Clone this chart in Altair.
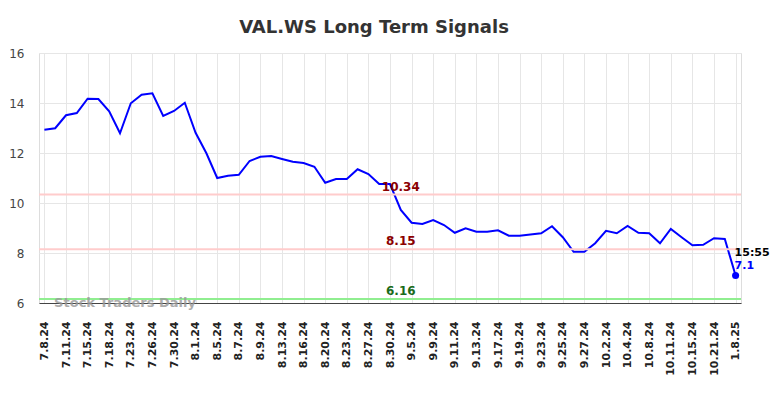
import altair as alt
import pandas as pd

values = [12.93, 12.99, 13.51, 13.60, 14.17, 14.16, 13.67, 12.79, 13.99, 14.33,
          14.39, 13.48, 13.68, 14.01, 12.81, 11.99, 11.00, 11.09, 11.13, 11.68,
          11.85, 11.88, 11.76, 11.65, 11.60, 11.45, 10.81, 10.96, 10.96, 11.35,
          11.16, 10.76, 10.76, 9.72, 9.21, 9.16, 9.32, 9.12, 8.81, 8.99,
          8.85, 8.85, 8.91, 8.69, 8.69, 8.74, 8.79, 9.07, 8.63, 8.05,
          8.05, 8.39, 8.89, 8.79, 9.08, 8.81, 8.79, 8.39, 8.96, 8.63,
          8.31, 8.33, 8.59, 8.56, 7.10]

tick_labels = ["7.8.24", "7.11.24", "7.15.24", "7.18.24", "7.23.24", "7.26.24",
               "7.30.24", "8.1.24", "8.5.24", "8.7.24", "8.9.24", "8.13.24",
               "8.16.24", "8.20.24", "8.23.24", "8.27.24", "8.30.24", "9.5.24",
               "9.9.24", "9.11.24", "9.13.24", "9.17.24", "9.19.24", "9.23.24",
               "9.25.24", "9.27.24", "10.2.24", "10.4.24", "10.8.24", "10.11.24",
               "10.15.24", "10.21.24", "1.8.25"]

levels = [10.34, 8.15, 6.16]
level_labels = ["10.34", "8.15", "6.16"]
level_line_colors = ["#ffcccc", "#ffcccc", "#90ee90"]
level_text_colors = ["#8b0000", "#8b0000", "#1a6b1a"]

last_time = "15:55"
watermark = "Stock Traders Daily"
title = "VAL.WS Long Term Signals"

df = pd.DataFrame({"i": list(range(len(values))), "v": values})
lv = pd.DataFrame({"y": levels, "label": level_labels,
                   "lc": level_line_colors, "tc": level_text_colors,
                   "x": [33] * len(levels)})
last = df.tail(1).copy()
last["t"] = last_time
last["vl"] = [f"{values[-1]:g}"]

n = len(values)
label_arr = "[" + ",".join(f"'{s}'" for s in tick_labels) + "]"

xscale = alt.Scale(domain=[-0.5, n - 0.5], nice=False, zero=False)
yscale = alt.Scale(domain=[6, 16], nice=False, zero=False)

x_axis = alt.Axis(values=list(range(0, n, 2)), labelExpr=f"{label_arr}[round(datum.value/2)]",
                  labelAngle=-90, labelAlign="right", labelBaseline="middle",
                  labelPadding=18, ticks=False, domain=True, domainColor="#444444",
                  domainWidth=1.2, grid=True, gridColor="#e6e6e6", title=None,
                  labelFont="DejaVu Sans", labelFontSize=11, labelFontWeight="bold",
                  labelColor="#222222", labelOverlap=False, labelBound=False,
                  labelFlush=False)
y_axis = alt.Axis(values=[6, 8, 10, 12, 14, 16], ticks=False, domain=False,
                  grid=True, gridColor="#e6e6e6", title=None, labelPadding=15,
                  labelFont="DejaVu Sans", labelFontSize=12, labelColor="#444444")


def X(field):
    return alt.X(field, scale=xscale, axis=x_axis)


def Y(field):
    return alt.Y(field, scale=yscale, axis=y_axis)


rules = alt.Chart(lv).mark_rule(strokeWidth=2).encode(
    y=Y("y:Q"), color=alt.Color("lc:N", scale=None))

rule_text = alt.Chart(lv).mark_text(font="DejaVu Sans", fontSize=12, fontWeight="bold",
                                    baseline="middle", dy=-8).encode(
    x=X("x:Q"), y=Y("y:Q"), text="label:N", color=alt.Color("tc:N", scale=None))

line = alt.Chart(df).mark_line(color="#0000ff", strokeWidth=2).encode(
    x=X("i:Q"), y=Y("v:Q"))

dot = alt.Chart(last).mark_circle(color="#0000ff", size=50, opacity=1).encode(
    x=X("i:Q"), y=Y("v:Q"))

time_text = alt.Chart(last).mark_text(font="DejaVu Sans", fontSize=11, fontWeight="bold",
                                      align="left", baseline="middle", dy=-23, dx=-1,
                                      color="#000000").encode(
    x=X("i:Q"), y=Y("v:Q"), text="t:N")

val_text = alt.Chart(last).mark_text(font="DejaVu Sans", fontSize=11, fontWeight="bold",
                                     align="left", baseline="middle", dy=-10, dx=-1,
                                     color="#0000ff").encode(
    x=X("i:Q"), y=Y("v:Q"), text="vl:N")

wm = alt.Chart(pd.DataFrame({"x": [0.9], "y": [6.0], "t": [watermark]})).mark_text(
    font="DejaVu Sans", fontSize=13, fontWeight="bold", align="left", baseline="middle",
    color="#999999", opacity=0.8).encode(
    x=X("x:Q"), y=Y("y:Q"), text="t:N")

chart = alt.layer(line, rules, rule_text, dot, time_text, val_text, wm).properties(
    width=702, height=250,
    title=alt.TitleParams(title, font="DejaVu Sans", fontSize=18, fontWeight="bold",
                          color="#333333", anchor="middle", dx=-16, offset=10),
    autosize=alt.AutoSizeParams(type="none"),
    padding={"left": 31, "top": 45, "right": 35, "bottom": 80},
).configure_view(strokeWidth=0, stroke="transparent").configure(background="white")

chart.save("out.html", embed_options={"renderer": "svg", "actions": False})
